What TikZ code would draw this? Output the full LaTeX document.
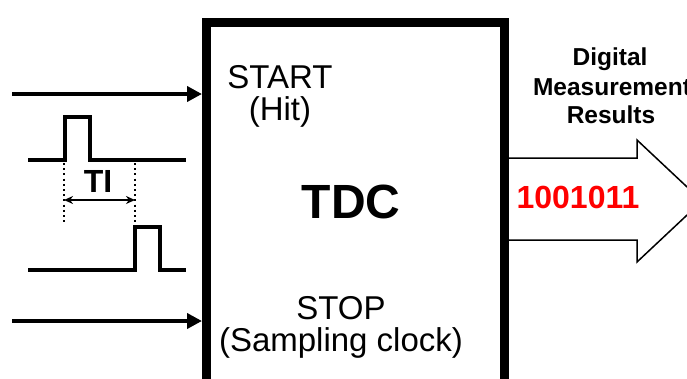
\documentclass[tikz,border=0pt]{standalone}
\usepackage{fontspec}
\setmainfont{Liberation Sans}
\usetikzlibrary{arrows.meta}
\begin{document}
\begin{tikzpicture}[x=1pt,y=-1pt,
  sig/.style={line width=4.5pt,-{Triangle[length=15pt,width=15pt]}},
  pulse/.style={line width=4pt,line join=miter},
  guide/.style={line width=2.5pt,dash pattern=on 2pt off 3.2pt},
  lbl/.style={font=\fontsize{33}{33}\selectfont,anchor=base,inner sep=0},
  hdr/.style={font=\bfseries\fontsize{24.5}{24.5}\selectfont,anchor=base,inner sep=0}]
\useasboundingbox (0,0) rectangle (687,378);
\clip (0,0) rectangle (687,378);
\fill[white] (0,0) rectangle (687,378);
% TDC box
\node[draw,line width=9pt,fill=none,minimum width=298pt,minimum height=380pt,
  anchor=north west,inner sep=0] (tdc) at (202,18) {};
% output block arrow
\draw[line width=1.5pt] (tdc.east |- 0,158) -- (637,158) -- (637,140) -- (702,201)
  -- (637,262) -- (637,240) -- (tdc.east |- 0,240);
% inputs
\coordinate (s0) at (12,94);
\coordinate (p0) at (12,321);
\draw[sig] (s0) -- (s0 -| tdc.west);
\draw[sig] (p0) -- (p0 -| tdc.west);
% pulses
\draw[pulse] (28,160) -- (65,160) -- (65,117) -- (90,117) -- (90,160) -- (186,160);
\draw[pulse] (28,270) -- (135,270) -- (135,227) -- (160,227) -- (160,270) -- (186,270);
\coordinate (d1) at (64,163);
\coordinate (d2) at (135,163);
\draw[guide] (d1) -- ++(0,60);
\draw[guide] (d2) -- ++(0,62);
\coordinate (t1) at (64,200);
\coordinate (t2) at (135,200);
\draw[line width=1.8pt,{Stealth[length=9pt,width=8pt]}-{Stealth[length=9pt,width=8pt]}] (t1) -- (t2);
\node[font=\bfseries\fontsize{32}{32}\selectfont,anchor=base,inner sep=0] (ti) at (98,192) {TI};
% labels
\node[lbl] (start) at (280,88) {START};
\node[lbl] (hit) at (280,120) {(Hit)};
\node[font=\bfseries\fontsize{48}{48}\selectfont,anchor=base,inner sep=0] (name) at (351,218) {TDC};
\node[lbl] (stop) at (341,319) {STOP};
\node[lbl] (samp) at (341,351) {(Sampling clock)};
\node[hdr] (h1) at (610,65) {Digital};
\node[hdr] (h2) at (612,95) {Measurement};
\node[hdr] (h3) at (611,123) {Results};
\node[font=\bfseries\fontsize{32}{32}\selectfont,anchor=base,inner sep=0,text=red] (bits) at (578,208) {1001011};
\end{tikzpicture}
\end{document}
